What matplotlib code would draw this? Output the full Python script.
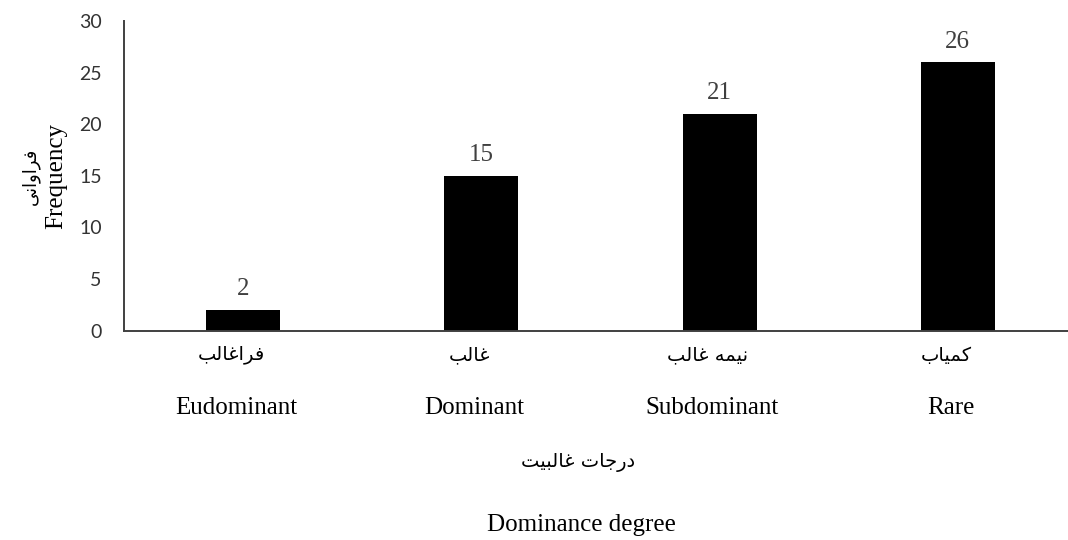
import matplotlib
matplotlib.use('Agg')
import matplotlib.pyplot as plt
import matplotlib.transforms as mtransforms
import numpy as np

# data
categories_en = ['Eudominant', 'Dominant', 'Subdominant', 'Rare']
categories_fa = ['فراغالب', 'غالب', 'نیمه غالب', 'کمیاب']
frequency = [2, 15, 21, 26]
yticks = [0, 5, 10, 15, 20, 25, 30]
ylabel_en = 'Frequency'
ylabel_fa = 'فراوانی'
xlabel_en = 'Dominance degree'
xlabel_fa = 'درجات غالبیت'

# matplotlib has no arabic shaping, so pick the presentation forms by hand
# (isolated, final, initial, medial)
FORMS = {
    'ا': ('\uFE8D', '\uFE8E', None, None),
    'ب': ('\uFE8F', '\uFE90', '\uFE91', '\uFE92'),
    'ت': ('\uFE95', '\uFE96', '\uFE97', '\uFE98'),
    'ج': ('\uFE9D', '\uFE9E', '\uFE9F', '\uFEA0'),
    'د': ('\uFEA9', '\uFEAA', None, None),
    'ر': ('\uFEAD', '\uFEAE', None, None),
    'غ': ('\uFECD', '\uFECE', '\uFECF', '\uFED0'),
    'ف': ('\uFED1', '\uFED2', '\uFED3', '\uFED4'),
    'ل': ('\uFEDD', '\uFEDE', '\uFEDF', '\uFEE0'),
    'م': ('\uFEE1', '\uFEE2', '\uFEE3', '\uFEE4'),
    'ن': ('\uFEE5', '\uFEE6', '\uFEE7', '\uFEE8'),
    'ه': ('\uFEE9', '\uFEEA', '\uFEEB', '\uFEEC'),
    'و': ('\uFEED', '\uFEEE', None, None),
    'ک': ('\uFB8E', '\uFB8F', '\uFB90', '\uFB91'),
    'ی': ('\uFBFC', '\uFBFD', '\uFBFE', '\uFBFF'),
}


def shape(s):
    out = []
    for i, ch in enumerate(s):
        if ch not in FORMS:
            out.append(ch)
            continue
        prev = s[i - 1] if i > 0 else None
        nxt = s[i + 1] if i < len(s) - 1 else None
        join_prev = prev in FORMS and FORMS[prev][2] is not None
        join_next = FORMS[ch][2] is not None and nxt in FORMS
        if join_prev and join_next:
            out.append(FORMS[ch][3])
        elif join_prev:
            out.append(FORMS[ch][1])
        elif join_next:
            out.append(FORMS[ch][2])
        else:
            out.append(FORMS[ch][0])
    return ''.join(out)[::-1]


W, H = 1068, 540
fig = plt.figure(figsize=(W / 100, H / 100), dpi=100)
ax = fig.add_axes([124 / W, 1 - 330.7 / H, 953 / W, (330.7 - 21) / H])

x = np.arange(len(categories_en))
bars = ax.bar(x, frequency, width=0.31, color='black')

serif = 'Liberation Serif'
fa_font = ['DejaVu Sans']

for xi, v in zip(x, frequency):
    ax.annotate(str(v), (xi, v), xytext=(0, 7), textcoords='offset points',
                ha='center', va='bottom', fontsize=18, family=serif, color='#404040')

ax.set_xlim(-0.5, 3.5)
ax.set_ylim(0, 30)
ax.set_yticks(yticks)
ax.set_xticks([])
ax.tick_params(axis='y', length=0, pad=16, labelsize=14, labelcolor='#333333')
for lab in ax.get_yticklabels():
    lab.set_family('Lato')

for s in ['top', 'right']:
    ax.spines[s].set_visible(False)
for s in ['left', 'bottom']:
    ax.spines[s].set_color('#404040')
    ax.spines[s].set_linewidth(1.4)

# category labels, persian above english
trans = mtransforms.blended_transform_factory(ax.transData, fig.transFigure)
for xi, fa, en in zip(x, categories_fa, categories_en):
    ax.text(xi - 0.05, 1 - 355 / H, shape(fa), transform=trans, ha='center', va='center',
            fontsize=14, family=fa_font, color='black')
    ax.text(xi - 0.03, 1 - 408 / H, en, transform=trans, ha='center', va='center',
            fontsize=18, family=serif, color='black')

# axis titles
fig.text(578 / W, 1 - 463 / H, shape(xlabel_fa), ha='center', va='center',
         fontsize=14, family=fa_font)
fig.text(581 / W, 1 - 525 / H, xlabel_en, ha='center', va='center',
         fontsize=18, family=serif)
fig.text(31 / W, 1 - 176 / H, shape(ylabel_fa), ha='center', va='center',
         rotation=90, fontsize=13, family=fa_font)
fig.text(56 / W, 1 - 176 / H, ylabel_en, ha='center', va='center',
         rotation=90, fontsize=18, family=serif)

fig.savefig('out.png', dpi=100)
